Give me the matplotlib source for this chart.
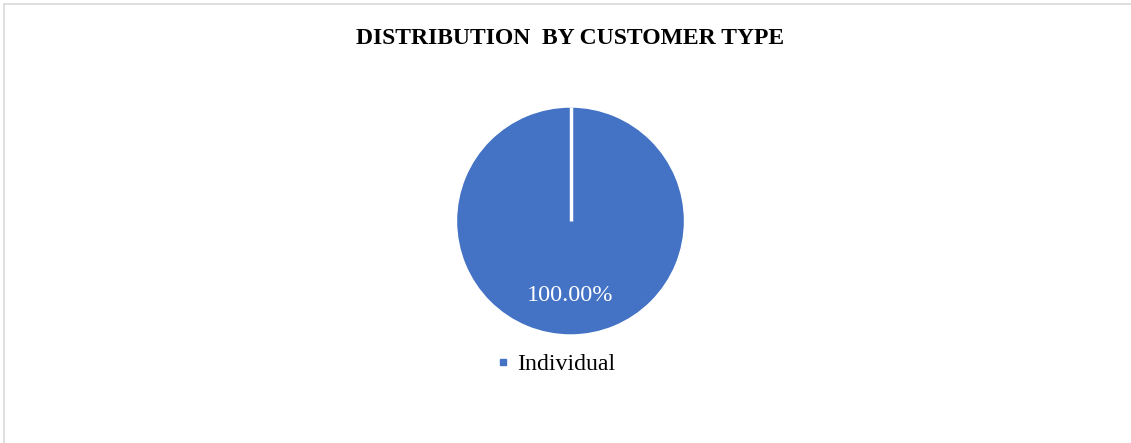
import matplotlib.pyplot as plt
from matplotlib.lines import Line2D
import numpy as np

# Data
categories = ["Individual"]
shares = [100.0]
colors = ["#4472C4"]

W, H = 1131, 443
fig = plt.figure(figsize=(W / 100, H / 100), dpi=100)
plt.rcParams['font.family'] = ['Liberation Serif', 'DejaVu Serif']

# pie axes placed in pixel terms
cx, cy, r = 570.5, 221, 114
ax = fig.add_axes([(cx - r) / W, (H - cy - r) / H, 2 * r / W, 2 * r / H])
wedges, texts, autotexts = ax.pie(
    shares, colors=colors, startangle=90, counterclock=False,
    autopct="%.2f%%", pctdistance=0.65,
    wedgeprops=dict(edgecolor="white", linewidth=1.0),
    textprops=dict(color="white", fontsize=17.5),
)
ax.set_xlim(-1, 1)
ax.set_ylim(-1, 1)
ax.set_aspect("equal")

# slice boundary (a full-circle wedge has no radial edge of its own)
for w in wedges:
    t = np.deg2rad(w.theta1)
    ax.plot([w.center[0], w.center[0] + w.r * np.cos(t)],
            [w.center[1], w.center[1] + w.r * np.sin(t)],
            color="white", lw=2.5, solid_capstyle="butt")

fig.text(cx / W, 1 - 38 / H, "DISTRIBUTION  BY CUSTOMER TYPE",
         ha="center", va="center", fontsize=17, fontweight="bold")

handles = [Line2D([], [], marker="s", ls="none", color=c, markersize=5) for c in colors]
fig.legend(handles, categories, loc="center", bbox_to_anchor=(556 / W, 1 - 364 / H),
           frameon=False, fontsize=17.2, handlelength=0.5, handletextpad=0.35)

# chart border (left and top only visible)
fig.add_artist(Line2D([3.5 / W, 3.5 / W], [0, 1 - 3.5 / H], transform=fig.transFigure,
                      color="#d9d9d9", lw=1.2))
fig.add_artist(Line2D([3.5 / W, 1], [1 - 3.5 / H, 1 - 3.5 / H], transform=fig.transFigure,
                      color="#d9d9d9", lw=1.2))

fig.savefig("out.png", dpi=100)
